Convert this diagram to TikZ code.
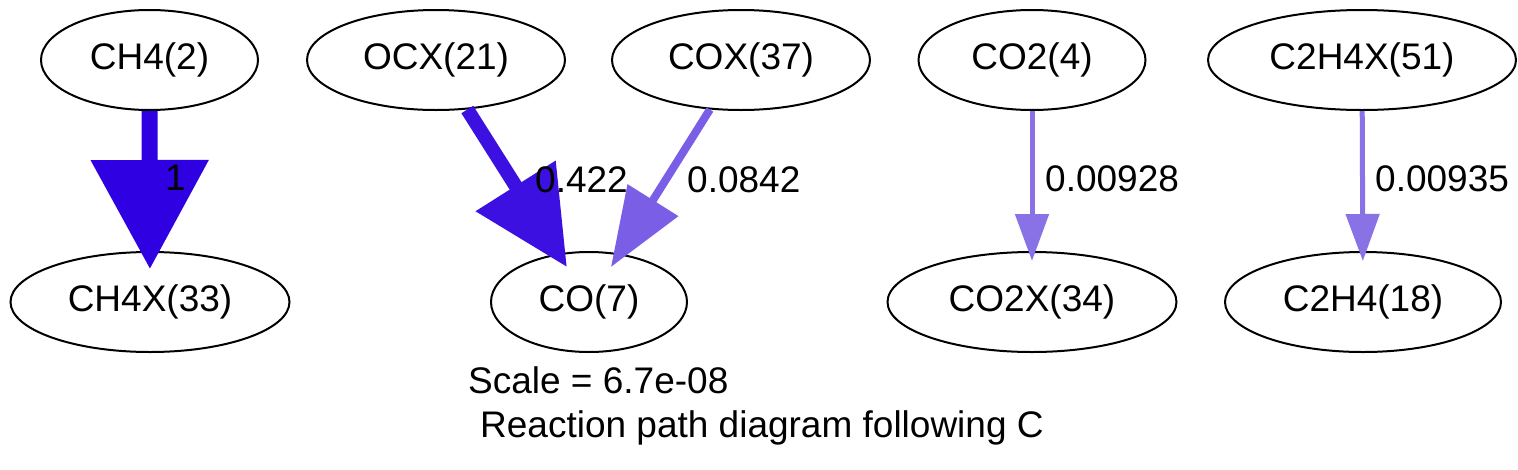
\documentclass[tikz,border=0pt]{standalone}
\usepackage{fontspec}
\setmainfont{Liberation Sans}
\usetikzlibrary{shapes.geometric,arrows.meta}
\definecolor{fluxA}{RGB}{47,0,226}
\definecolor{fluxB}{RGB}{60,16,224}
\definecolor{fluxC}{RGB}{123,94,230}
\definecolor{fluxD}{RGB}{137,113,230}
\begin{document}
\begin{tikzpicture}[x=1pt,y=-1pt,
  species/.style={ellipse, draw, line width=2pt, minimum height=100pt, inner sep=0pt, font=\fontsize{37}{44}\selectfont},
  fluxlabel/.style={anchor=west, inner sep=0pt, font=\fontsize{37}{44}\selectfont},
  caption/.style={anchor=base west, inner sep=0pt, font=\fontsize{37}{44}\selectfont}]
\useasboundingbox (0,0) rectangle (1518,469);
% top row
\node[species, minimum width=217pt] (ch4) at (149.5,60){CH4(2)};
\node[species, minimum width=258pt] (ocx) at (436,60){OCX(21)};
\node[species, minimum width=258pt] (cox) at (741,60){COX(37)};
\node[species, minimum width=227pt] (co2) at (1032,60){CO2(4)};
\node[species, minimum width=308pt] (c2h4x) at (1362,60){C2H4X(51)};
% bottom row
\node[species, minimum width=279pt] (ch4x) at (150,302){CH4X(33)};
\node[species, minimum width=196pt] (co) at (589,302){CO(7)};
\node[species, minimum width=289pt] (co2x) at (1032,302){CO2X(34)};
\node[species, minimum width=276pt] (c2h4) at (1363,302){C2H4(18)};
% fluxes
\draw[fluxA, line width=16pt, -{Triangle[length=109pt,width=114pt]}, shorten >=-18pt] (ch4) -- (ch4x);
\draw[fluxB, line width=14pt, -{Triangle[length=96pt,width=91pt]}, shorten >=-16pt] (ocx) -- (co);
\draw[fluxC, line width=8pt, -{Triangle[length=79pt,width=58pt]}, shorten >=-16pt] (cox) -- (co);
\draw[fluxD, line width=5pt, -{Triangle[length=47pt,width=33pt]}, shorten >=-10pt] (co2) -- (co2x);
\draw[fluxD, line width=5pt, -{Triangle[length=47pt,width=33pt]}, shorten >=-10pt] (c2h4x) -- (c2h4);
\node[fluxlabel] (l1) at (165,178){1};
\node[fluxlabel] (l2) at (535,180){0.422};
\node[fluxlabel] (l3) at (687,180){0.0842};
\node[fluxlabel] (l4) at (1045,179){0.00928};
\node[fluxlabel] (l5) at (1375,179){0.00935};
\node[caption] (scale) at (468,393){Scale = 6.7e-08};
\node[caption] (title) at (480,437){Reaction path diagram following C};
\end{tikzpicture}
\end{document}
